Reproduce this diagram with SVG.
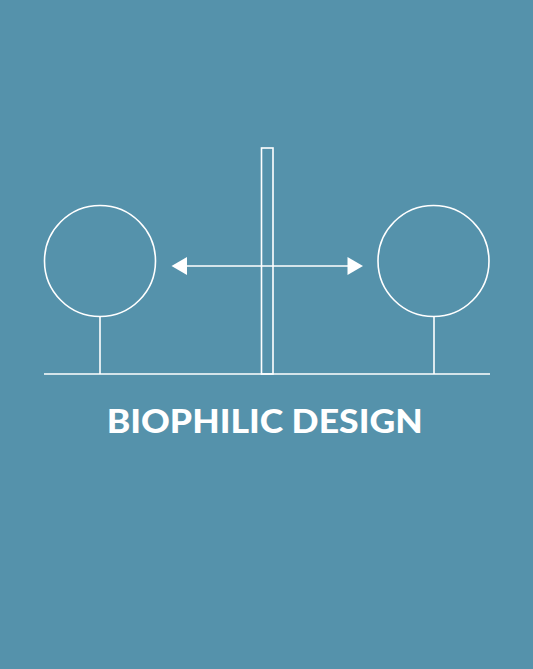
<svg xmlns="http://www.w3.org/2000/svg" width="533" height="669" viewBox="0 0 533 669">
<style>
.ln{fill:none;stroke:#ffffff;stroke-width:1.6}
.title{font-family:Lato,"Open Sans",sans-serif;font-weight:900;font-size:33px;fill:#ffffff}
</style>
<rect x="0" y="0" width="533" height="669" fill="#5592ab"/>
<g id="ground"><line class="ln" x1="44" y1="374" x2="490" y2="374"/></g>
<g id="tree-left">
<circle class="ln" cx="100" cy="261" r="55.5"/>
<line class="ln" x1="100" y1="316.5" x2="100" y2="374"/>
</g>
<g id="tree-right">
<circle class="ln" cx="433.5" cy="261" r="55.5"/>
<line class="ln" x1="434" y1="316.5" x2="434" y2="374"/>
</g>
<g id="pole"><rect class="ln" x="261.5" y="148" width="11.5" height="226"/></g>
<g id="connectors">
<line class="ln" x1="185" y1="266" x2="349" y2="266"/>
<polygon points="171.5,266 187,257 187,275" fill="#ffffff"/>
<polygon points="363,266 347.5,257 347.5,275" fill="#ffffff"/>
</g>
<g id="label"><text class="title" x="264.7" y="432.5" text-anchor="middle" textLength="316" lengthAdjust="spacingAndGlyphs">BIOPHILIC DESIGN</text></g>
</svg>
